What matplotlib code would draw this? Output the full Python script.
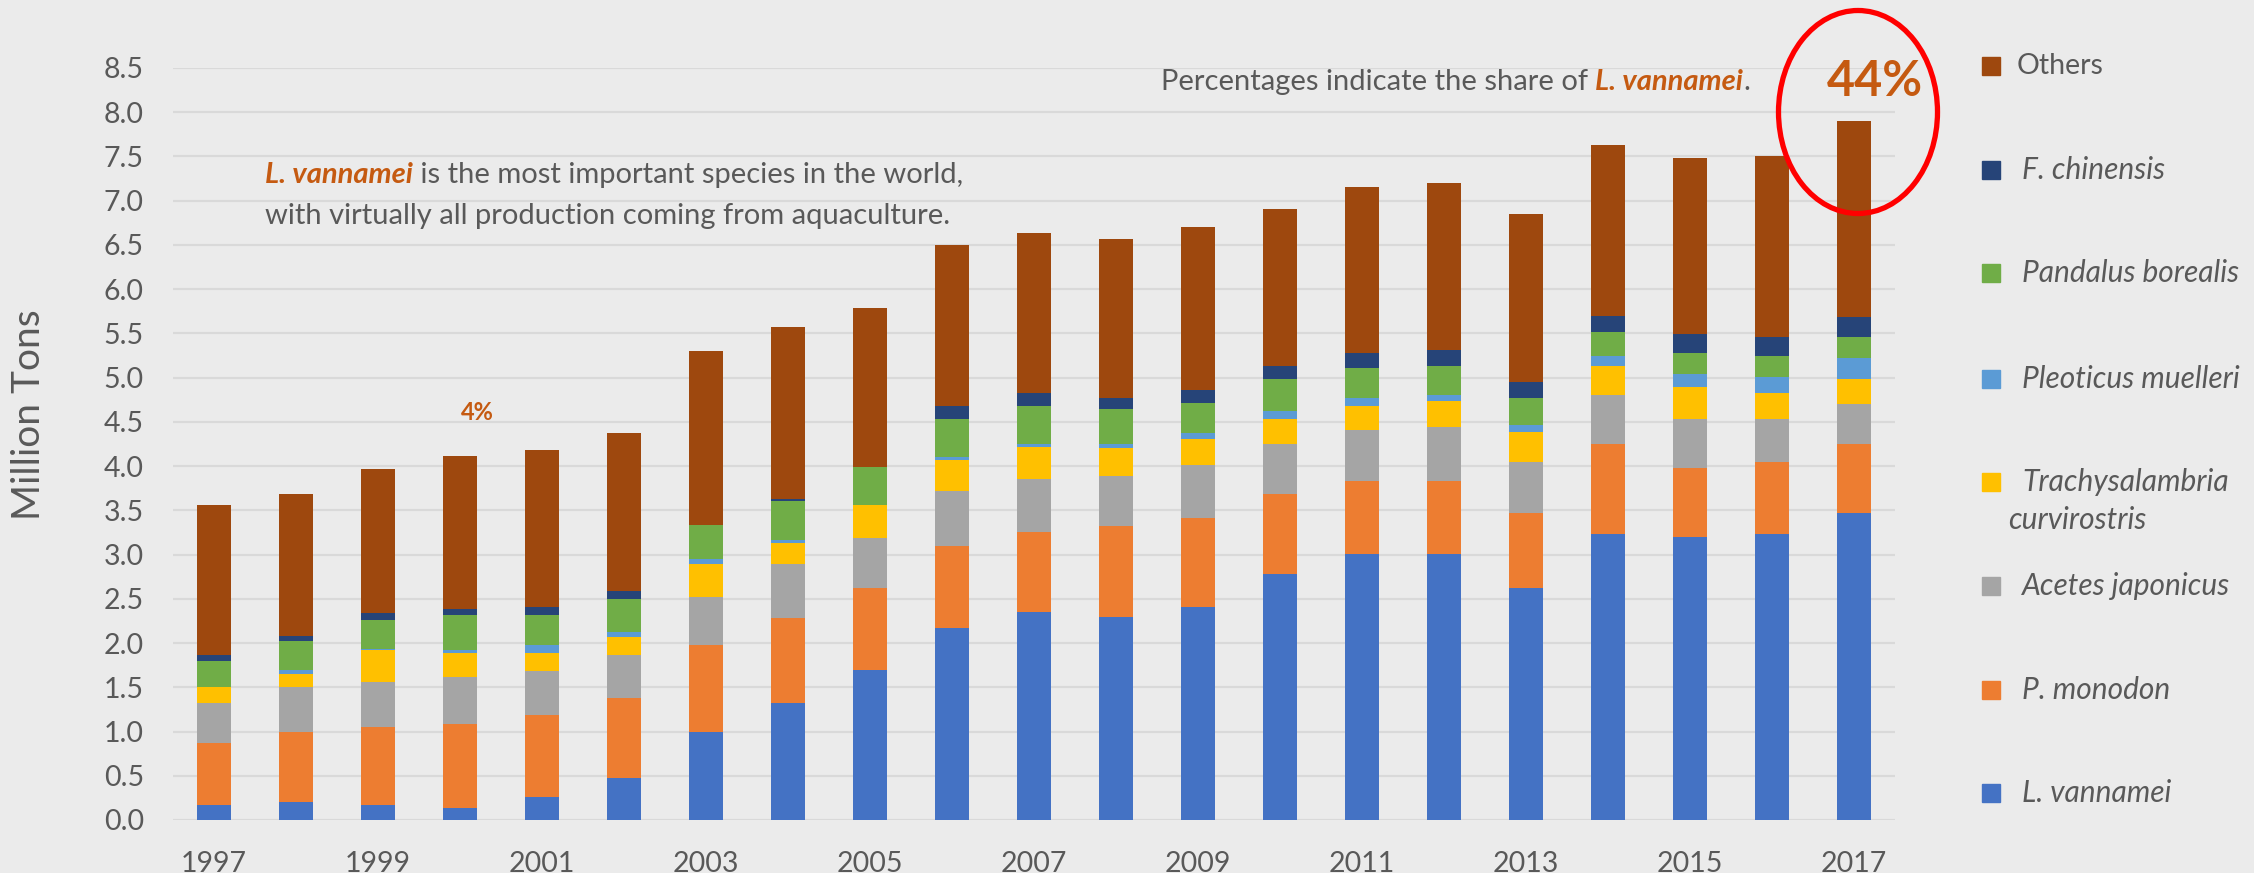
import numpy as np
import matplotlib.pyplot as plt
from matplotlib.patches import Ellipse, Rectangle

plt.rcParams['font.family'] = ['Lato', 'DejaVu Sans']

# data (million tons)
years = list(range(1997, 2018))
l_vannamei = [0.17, 0.20, 0.17, 0.14, 0.26, 0.47, 0.99, 1.32, 1.69, 2.17, 2.35,
              2.29, 2.41, 2.78, 3.01, 3.01, 2.62, 3.23, 3.20, 3.23, 3.47]
p_monodon = [0.70, 0.79, 0.88, 0.94, 0.93, 0.91, 0.99, 0.96, 0.93, 0.93, 0.91,
             1.03, 1.00, 0.90, 0.82, 0.82, 0.85, 1.02, 0.78, 0.82, 0.78]
acetes = [0.45, 0.51, 0.51, 0.54, 0.49, 0.48, 0.54, 0.61, 0.57, 0.62, 0.60,
          0.57, 0.60, 0.57, 0.58, 0.61, 0.58, 0.55, 0.55, 0.48, 0.45]
trachy = [0.18, 0.15, 0.36, 0.27, 0.21, 0.21, 0.37, 0.24, 0.37, 0.35, 0.36,
          0.31, 0.30, 0.28, 0.27, 0.30, 0.33, 0.33, 0.36, 0.30, 0.28]
pleoticus = [0.00, 0.04, 0.01, 0.03, 0.09, 0.06, 0.06, 0.03, 0.00, 0.03, 0.03,
             0.05, 0.06, 0.09, 0.09, 0.06, 0.09, 0.12, 0.15, 0.18, 0.24]
pandalus = [0.30, 0.33, 0.33, 0.40, 0.34, 0.37, 0.39, 0.45, 0.43, 0.43, 0.43,
            0.40, 0.34, 0.36, 0.34, 0.33, 0.30, 0.27, 0.24, 0.24, 0.24]
f_chinensis = [0.07, 0.06, 0.08, 0.06, 0.09, 0.09, 0.00, 0.02, 0.00, 0.15, 0.15,
               0.12, 0.15, 0.15, 0.17, 0.18, 0.18, 0.18, 0.21, 0.21, 0.22]
others = [1.69, 1.60, 1.63, 1.74, 1.77, 1.78, 1.96, 1.94, 1.80, 1.82, 1.80,
          1.80, 1.84, 1.78, 1.87, 1.89, 1.90, 1.93, 1.99, 2.05, 2.22]

series = [l_vannamei, p_monodon, acetes, trachy, pleoticus, pandalus, f_chinensis, others]
labels = ['L. vannamei', 'P. monodon', 'Acetes japonicus', 'Trachysalambria\ncurvirostris',
          'Pleoticus muelleri', 'Pandalus borealis', 'F. chinensis', 'Others']
colors = ['#4472C4', '#ED7D31', '#A5A5A5', '#FFC000', '#5B9BD5', '#70AD47', '#264478', '#9E480E']

W, H = 2254, 873
bg = '#EBEBEB'
grey_txt = '#595959'
accent = '#C55A11'
note_fs = 21


def fp(x, y):
    # pixel position -> figure fraction
    return x / W, 1 - y / H


fig = plt.figure(figsize=(W / 100, H / 100), dpi=100)
fig.patch.set_facecolor(bg)
ax = fig.add_axes([173 / W, 1 - 820 / H, (1895 - 173) / W, (820 - 68) / H])
ax.set_facecolor(bg)

bottom = np.zeros(len(years))
for vals, c in zip(series, colors):
    ax.bar(years, vals, bottom=bottom, width=0.41, color=c, zorder=3)
    bottom += np.array(vals)

ax.set_xlim(1996.5, 2017.5)
ax.set_ylim(0, 8.5)
ax.set_yticks(np.arange(0, 8.51, 0.5))
ax.set_yticklabels([f'{v:.1f}' for v in np.arange(0, 8.51, 0.5)])
ax.set_xticks(years[::2])
ax.grid(axis='y', color='#D9D9D9', lw=1.6, zorder=0)
ax.tick_params(length=0, labelsize=20.5, labelcolor=grey_txt)
ax.tick_params(axis='y', pad=21)
ax.tick_params(axis='x', pad=22)
for s in ax.spines.values():
    s.set_visible(False)

fig.text(*fp(29, 415), 'Million Tons', rotation=90, ha='center', va='center',
         fontsize=28, color=grey_txt)

# annotation in upper left
t1 = fig.text(*fp(265, 175), 'L. vannamei', fontsize=note_fs, color=accent,
              fontweight='bold', style='italic', va='center')
ax.annotate(' is the most important species in the world,', xy=(1, 0), xycoords=t1,
            va='bottom', fontsize=note_fs, color=grey_txt)
fig.text(*fp(265, 216), 'with virtually all production coming from aquaculture.',
         fontsize=note_fs, color=grey_txt, va='center')

# note at top right
t2 = fig.text(*fp(1161, 82), 'Percentages indicate the share of ', fontsize=note_fs,
              color=grey_txt, va='center')
t3 = ax.annotate('L. vannamei', xy=(1, 0), xycoords=t2, va='bottom', fontsize=note_fs,
                 color=accent, fontweight='bold', style='italic')
ax.annotate('.', xy=(1, 0), xycoords=t3, va='bottom', fontsize=note_fs, color=grey_txt)

fig.text(*fp(1875, 82), '44%', fontsize=35, fontweight='bold', color=accent,
         ha='center', va='center')
fig.text(*fp(477, 413), '4%', fontsize=17, fontweight='bold', color=accent,
         ha='center', va='center')

fig.patches.append(Ellipse(fp(1858, 112), 159 / W, 203 / H, transform=fig.transFigure,
                           fill=False, ec='#FF0000', lw=3.8, zorder=10))

# legend, drawn top to bottom
leg_y = [66, 170, 273, 379, 482, 586, 690, 793]
for i, (lab, c) in enumerate(zip(labels[::-1], colors[::-1])):
    y = leg_y[i]
    x0, y0 = fp(1982, y + 9)
    fig.patches.append(Rectangle((x0, y0), 18 / W, 18 / H, transform=fig.transFigure,
                                 color=c))
    if lab == 'Others':
        fig.text(*fp(2017, y), lab, fontsize=20.5, color=grey_txt, va='center')
    elif '\n' in lab:
        first, second = lab.split('\n')
        fig.text(*fp(2022, y), first, fontsize=21.5, color=grey_txt, va='center',
                 style='italic')
        fig.text(*fp(2008, y + 38), second, fontsize=21.5, color=grey_txt, va='center',
                 style='italic')
    else:
        fig.text(*fp(2022, y), lab, fontsize=21.5, color=grey_txt, va='center',
                 style='italic')

plt.savefig('out.png', dpi=100, facecolor=bg)
